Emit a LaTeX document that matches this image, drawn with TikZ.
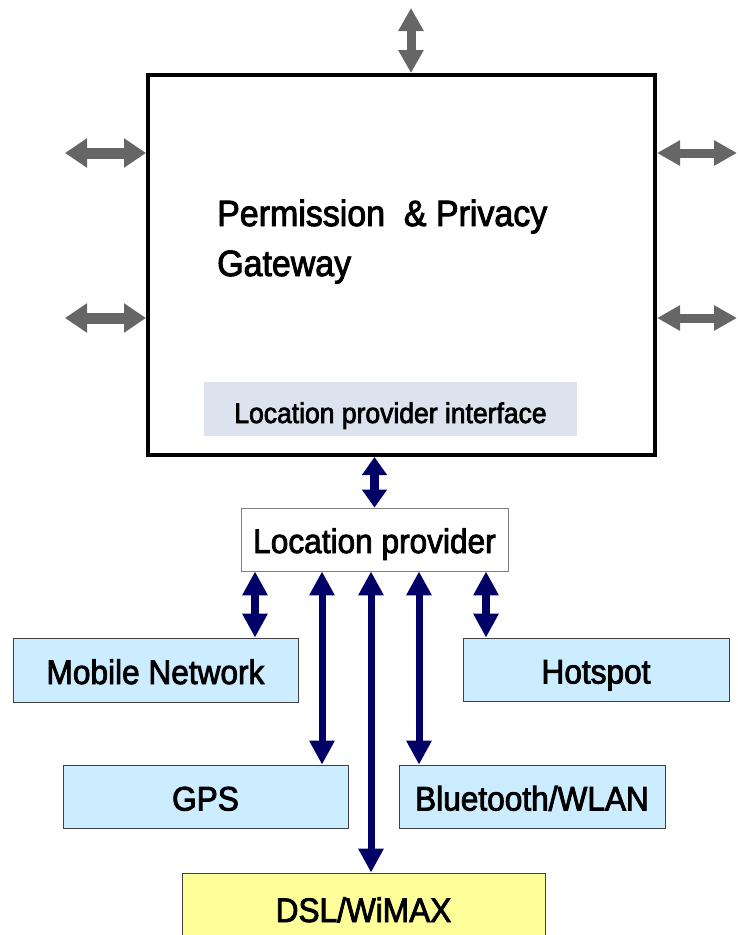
\documentclass[tikz,border=0pt]{standalone}
\usepackage{fontspec}
\setmainfont[FakeStretch=0.93, FakeBold=2.5]{Liberation Sans}
\usetikzlibrary{arrows.meta, positioning, calc}
\definecolor{NavyArrow}{RGB}{0, 0, 102}
\definecolor{GreyArrow}{RGB}{102, 102, 102}
\definecolor{SkyFill}{RGB}{204, 236, 255}
\definecolor{PaleSlate}{RGB}{221, 227, 238}
\definecolor{PaleYellow}{RGB}{255, 255, 153}

\begin{document}
\begin{tikzpicture}[
        x=1pt, y=-1pt,
        tech/.style={rectangle, draw=black!75, line width=0.8pt, fill=SkyFill, inner sep=0pt, text height=28pt, text depth=0pt, font=\fontsize{34}{34}\selectfont},
        navyarrow/.style={draw=NavyArrow, line width=7pt, {Triangle[width=24pt,length=24pt]}-{Triangle[width=24pt,length=24pt]}},
        greyarrow/.style={draw=GreyArrow, line width=11pt, {Triangle[width=28pt,length=22pt]}-{Triangle[width=28pt,length=22pt]}},
        thingrey/.style={greyarrow, line width=9pt, {Triangle[width=24pt,length=23pt]}-{Triangle[width=24pt,length=23pt]}}
    ]
        \useasboundingbox (0,0) rectangle (738,935);
        \clip (0,0) rectangle (738,935);

        % Gateway
        \node[rectangle, draw, line width=4pt, minimum width=507pt, minimum height=380pt, inner sep=0pt] (gw) at (401.5,265) {};
        \node[anchor=base west, inner sep=0pt, font=\fontsize{36.5}{36.5}\selectfont] (title1) at (217,226) {Permission\ \ \& Privacy};
        \node[anchor=base west, inner sep=0pt, font=\fontsize{36.5}{36.5}\selectfont] (title2) at (217,276) {Gateway};
        \node[rectangle, fill=PaleSlate, minimum width=373pt, minimum height=54pt, inner sep=0pt, text height=28pt, text depth=0pt, font=\fontsize{28.5}{28.5}\selectfont] (lpi) at (390.5,409) {Location provider interface};

        % Outer ports
        \coordinate (top) at (411,8);
        \coordinate (l1) at (65,153);
        \coordinate (l2) at (65,318);
        \coordinate (r1) at (737,153);
        \coordinate (r2) at (737,318);
        \draw[thingrey] (top) -- (top |- gw.north);
        \draw[greyarrow] (l1) -- (l1 -| gw.west);
        \draw[greyarrow] (l2) -- (l2 -| gw.west);
        \draw[thingrey] (gw.east |- r1) -- (r1);
        \draw[thingrey] (gw.east |- r2) -- (r2);

        % Location provider
        \node[rectangle, draw=black!50, line width=0.8pt, fill=white, minimum width=267pt, minimum height=63pt, inner sep=0pt, text height=27pt, text depth=0pt, font=\fontsize{34}{34}\selectfont] (lp) at (374.5,539.5) {Location provider};
        \draw[navyarrow, line width=9pt, {Triangle[width=24pt,length=18pt]}-{Triangle[width=24pt,length=18pt]}] (lp.north |- gw.south) -- (lp.north);

        % Access technologies
        \node[tech, minimum width=285pt, minimum height=64pt] (mob) at (155.5,670) {Mobile Network};
        \node[tech, minimum width=266pt, minimum height=63pt] (hot) at (596,669.5) {Hotspot};
        \node[tech, minimum width=285pt, minimum height=63pt] (gps) at (205.5,796.5) {GPS};
        \node[tech, minimum width=266pt, minimum height=63pt] (bt) at (532,796.5) {Bluetooth/WLAN};
        \node[tech, fill=PaleYellow, minimum width=363pt, minimum height=70pt] (dsl) at (363.5,908) {DSL/WiMAX};

        % Connections
        \draw[navyarrow, line width=8pt] (lp.south -| 255,0) -- (mob.north -| 255,0);
        \draw[navyarrow] (lp.south -| 322,0) -- (gps.north -| 322,0);
        \draw[navyarrow] (lp.south -| 371,0) -- (dsl.north -| 371,0);
        \draw[navyarrow] (lp.south -| 419,0) -- (bt.north -| 419,0);
        \draw[navyarrow, line width=8pt] (lp.south -| 486,0) -- (hot.north -| 486,0);
    \end{tikzpicture}
\end{document}
